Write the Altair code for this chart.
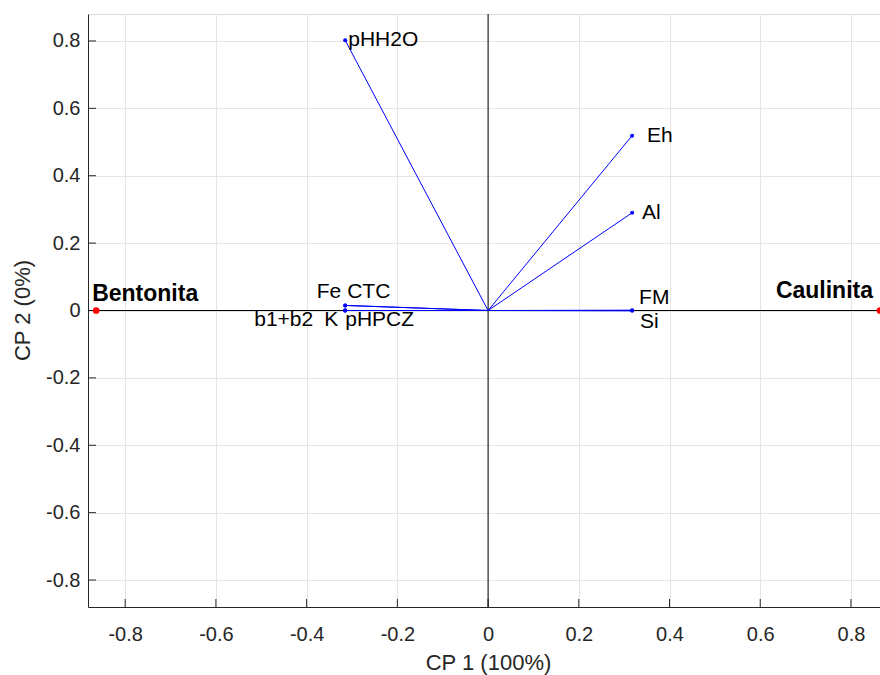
import altair as alt
import pandas as pd

# ---- data ----
variables = ["pHH2O", "Eh", "Al", "FM", "Si", "Fe", "CTC", "b1+b2", "K", "pHPCZ"]
pc1 = [-0.315, 0.3175, 0.3175, 0.3175, 0.3175, -0.315, -0.315, -0.315, -0.315, -0.315]
pc2 = [0.802, 0.519, 0.290, 0.001, -0.001, 0.015, 0.015, 0.0, 0.0, 0.0]

obs_names = ["Bentonita", "Caulinita"]
obs_pc1 = [-0.864, 0.864]
obs_pc2 = [0.0, 0.0]

tick_values = [-0.8, -0.6, -0.4, -0.2, 0, 0.2, 0.4, 0.6, 0.8]

x_domain = [-0.882, 0.864]
y_domain = [-0.88, 0.88]

# ---- tables ----
vec = pd.DataFrame({"var": variables, "pc1": pc1, "pc2": pc2})
vec["origin"] = 0.0
obs = pd.DataFrame({"name": obs_names, "pc1": obs_pc1, "pc2": obs_pc2})
obs["origin"] = 0.0
ticks = pd.DataFrame({"t": tick_values})

W, H = 792, 593
FONT = "Liberation Sans"
AX = "#262626"
GRID = "#e5e5e5"

xs = alt.Scale(domain=x_domain, nice=False, zero=False)
ys = alt.Scale(domain=y_domain, nice=False, zero=False)

lab_expr = ("abs(datum.value) < 1e-9 ? '0' : (datum.value < 0 ? '-' + format(-datum.value, '.1f') "
            ": format(datum.value, '.1f'))")

x_axis = alt.Axis(values=tick_values, title="CP 1 (100%)", grid=True, gridColor=GRID,
                  tickSize=0, ticks=False, labelPadding=17, labelExpr=lab_expr, labelFontSize=20,
                  labelColor=AX, labelFont=FONT, domainColor=AX, titleFont=FONT,
                  titleFontSize=22, titleFontWeight="normal", titleColor=AX,
                  titleX=400, titleY=55, titleBaseline="middle", titleAlign="center")
y_axis = alt.Axis(values=tick_values, title="CP 2 (0%)", grid=True, gridColor=GRID,
                  tickSize=0, ticks=False, labelPadding=8, labelExpr=lab_expr, labelFontSize=20,
                  labelColor=AX, labelFont=FONT, domainColor=AX, titleFont=FONT,
                  titleFontSize=22, titleFontWeight="normal", titleColor=AX,
                  titleX=-66, titleY=296, titleAngle=-90, titleBaseline="middle",
                  titleAlign="center")


def X(field):
    return alt.X(field, type="quantitative", scale=xs, axis=x_axis)


def Y(field):
    return alt.Y(field, type="quantitative", scale=ys, axis=y_axis)


# inward ticks
ytick = alt.Chart(ticks).mark_rule(color=AX, strokeWidth=1).encode(
    y=Y("t"), x=alt.value(0), x2=alt.value(8))
xtick = alt.Chart(ticks).mark_rule(color=AX, strokeWidth=1).encode(
    x=X("t"), y=alt.value(H), y2=alt.value(H - 8))

# black zero lines through the origin
hline = alt.Chart(obs).transform_filter(alt.datum.name == "Bentonita").mark_rule(
    color="black", strokeWidth=1).encode(y=Y("origin"))
vline = alt.Chart(obs).transform_filter(alt.datum.name == "Bentonita").mark_rule(
    color="black", strokeWidth=1).encode(x=X("origin"))

# vectors
vectors = alt.Chart(vec).mark_rule(color="#0000ff", strokeWidth=1).encode(
    x=X("origin"), y=Y("origin"), x2="pc1:Q", y2="pc2:Q")
vec_pts = alt.Chart(vec).mark_circle(color="#0000ff", size=16, opacity=1).encode(
    x=X("pc1"), y=Y("pc2"))

# observations
obs_pts = alt.Chart(obs).mark_circle(color="#ff0000", size=45, opacity=1).encode(
    x=X("pc1"), y=Y("pc2"))

# variable labels with individual offsets (style)
label_style = {
    "pHH2O": dict(align="left", dx=3, dy=0),
    "Eh": dict(align="left", dx=15, dy=0),
    "Al": dict(align="left", dx=10, dy=0),
    "FM": dict(align="left", dx=7, dy=-12),
    "Si": dict(align="left", dx=8, dy=11),
    "Fe": dict(align="right", dx=-4, dy=-13),
    "CTC": dict(align="left", dx=2, dy=-13),
    "b1+b2": dict(align="right", dx=-32, dy=9),
    "K": dict(align="right", dx=-7, dy=9),
    "pHPCZ": dict(align="left", dx=0, dy=9),
}
label_layers = []
for v in variables:
    st = label_style[v]
    label_layers.append(
        alt.Chart(vec).transform_filter(alt.datum.var == v).mark_text(
            font=FONT, fontSize=21, color="black", baseline="middle", **st
        ).encode(x=X("pc1"), y=Y("pc2"), text="var:N")
    )

obs_style = {
    "Bentonita": dict(align="left", dx=-4, dy=-17),
    "Caulinita": dict(align="right", dx=-7, dy=-20),
}
obs_layers = []
for n in obs_names:
    st = obs_style[n]
    obs_layers.append(
        alt.Chart(obs).transform_filter(alt.datum.name == n).mark_text(
            font=FONT, fontSize=23, fontWeight="bold", color="black", baseline="middle", **st
        ).encode(x=X("pc1"), y=Y("pc2"), text="name:N")
    )

chart = alt.layer(
    ytick, xtick, hline, vline, vectors, vec_pts, obs_pts, *label_layers, *obs_layers
).properties(
    width=W, height=H,
    autosize=alt.AutoSizeParams(type="none"),
    padding={"left": 88, "top": 14, "right": 0, "bottom": 68},
).configure_view(strokeWidth=0).configure(background="white")

chart.save("out.html", embed_options={"renderer": "svg", "actions": False})
